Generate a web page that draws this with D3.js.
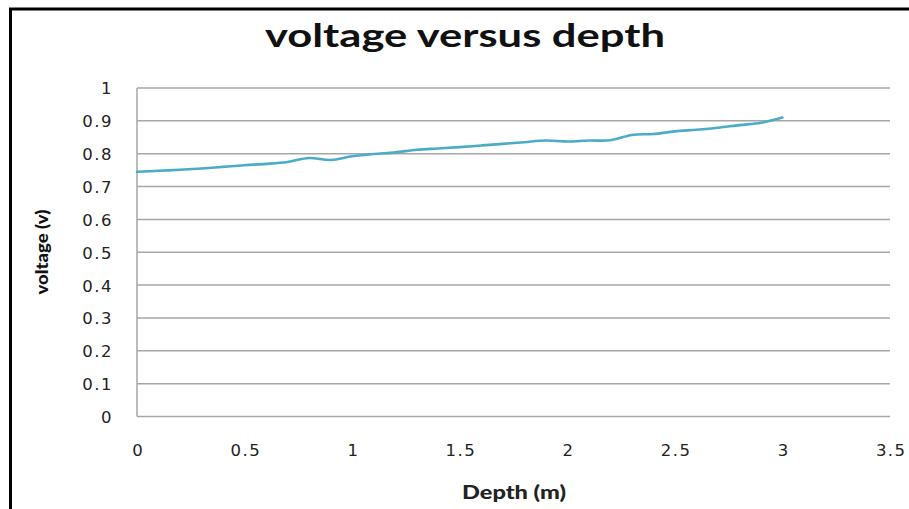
<!DOCTYPE html>
<html>
<head>
<meta charset="utf-8">
<script src="https://cdn.jsdelivr.net/npm/d3@7"></script>
<style>
  html, body { margin: 0; padding: 0; background: #fff; }
  svg { display: block; }
</style>
</head>
<body>
<svg id="chart" width="909" height="509"></svg>
<script>
const chartTitle = "voltage versus depth";
const xTitle = "Depth (m)";
const yTitle = "voltage (v)";
const depth = [0, 0.1, 0.2, 0.3, 0.4, 0.5, 0.6, 0.7, 0.8, 0.9, 1.0, 1.1, 1.2, 1.3, 1.4, 1.5,
               1.6, 1.7, 1.8, 1.9, 2.0, 2.1, 2.2, 2.3, 2.4, 2.5, 2.6, 2.7, 2.8, 2.9, 3.0];
const voltage = [0.745, 0.748, 0.751, 0.755, 0.760, 0.765, 0.769, 0.775, 0.787, 0.781, 0.792,
                 0.799, 0.804, 0.812, 0.816, 0.820, 0.825, 0.830, 0.835, 0.840, 0.837, 0.840,
                 0.841, 0.857, 0.860, 0.868, 0.873, 0.879, 0.887, 0.894, 0.910];
const xTicks = [0, 0.5, 1, 1.5, 2, 2.5, 3, 3.5];
const yTicks = [0, 0.1, 0.2, 0.3, 0.4, 0.5, 0.6, 0.7, 0.8, 0.9, 1];

const svg = d3.select("#chart");
const W = 909, H = 509;
const plot = { left: 137, right: 890, top: 88, bottom: 416.5 };

// outer chart border
svg.append("rect")
  .attr("x", 10.5).attr("y", 9)
  .attr("width", W + 20).attr("height", H + 20)
  .attr("fill", "#fff").attr("stroke", "#000").attr("stroke-width", 3);

const x = d3.scaleLinear().domain([0, 3.5]).range([plot.left, plot.right]);
const y = d3.scaleLinear().domain([0, 1]).range([plot.bottom, plot.top]);

// gridlines
svg.append("g").selectAll("line").data(yTicks).join("line")
  .attr("x1", plot.left).attr("x2", plot.right)
  .attr("y1", d => y(d)).attr("y2", d => y(d))
  .attr("stroke", "#a6a6a6").attr("stroke-width", 1.5);

// left axis line
svg.append("line")
  .attr("x1", plot.left).attr("x2", plot.left)
  .attr("y1", plot.top).attr("y2", plot.bottom)
  .attr("stroke", "#a6a6a6").attr("stroke-width", 1.5);

const fmt = d => d3.format("")(+d.toFixed(1));

// y axis labels
const yAxis = d3.axisLeft(y).tickValues(yTicks).tickSize(0).tickPadding(24).tickFormat(fmt);
const gy = svg.append("g").attr("transform", `translate(${plot.left},0)`).call(yAxis);
gy.select(".domain").remove();
gy.selectAll("text")
  .attr("font-family", "DejaVu Sans, sans-serif").attr("font-size", 16.5)
  .attr("letter-spacing", "1.5px")
  .attr("fill", "#222").attr("dy", "0.36em");

// x axis labels
const xAxis = d3.axisBottom(x).tickValues(xTicks).tickSize(0).tickPadding(0).tickFormat(fmt);
const gx = svg.append("g").attr("transform", `translate(0,${plot.bottom})`).call(xAxis);
gx.select(".domain").remove();
gx.selectAll("text")
  .attr("font-family", "DejaVu Sans, sans-serif").attr("font-size", 16.5)
  .attr("letter-spacing", "1.5px")
  .attr("fill", "#222").attr("dy", null).attr("y", 39).attr("dx", "0.75px");

// line
const line = d3.line()
  .x((d, i) => x(depth[i]))
  .y(d => y(d))
  .curve(d3.curveCatmullRom.alpha(0.5));
svg.append("path")
  .datum(voltage)
  .attr("d", line)
  .attr("fill", "none")
  .attr("stroke", "#4aacc6")
  .attr("stroke-width", 2.6)
  .attr("stroke-linejoin", "round")
  .attr("stroke-linecap", "round");

// title
svg.append("text")
  .attr("x", 465).attr("y", 47)
  .attr("text-anchor", "middle")
  .attr("font-family", "Lato, sans-serif").attr("font-weight", "bold")
  .attr("font-size", 33)
  .attr("fill", "#111")
  .attr("textLength", 400).attr("lengthAdjust", "spacingAndGlyphs")
  .text(chartTitle);

// x title
svg.append("text")
  .attr("x", 514).attr("y", 499)
  .attr("text-anchor", "middle")
  .attr("font-family", "Lato, sans-serif").attr("font-weight", "900")
  .attr("font-size", 19)
  .attr("fill", "#222")
  .attr("textLength", 104).attr("lengthAdjust", "spacingAndGlyphs")
  .text(xTitle);

// y title
svg.append("text")
  .attr("transform", "translate(48,252) rotate(-90)")
  .attr("text-anchor", "middle")
  .attr("font-family", "Lato, sans-serif").attr("font-weight", "900")
  .attr("font-size", 16)
  .attr("fill", "#111")
  .attr("textLength", 85).attr("lengthAdjust", "spacingAndGlyphs")
  .text(yTitle);
</script>
</body>
</html>
